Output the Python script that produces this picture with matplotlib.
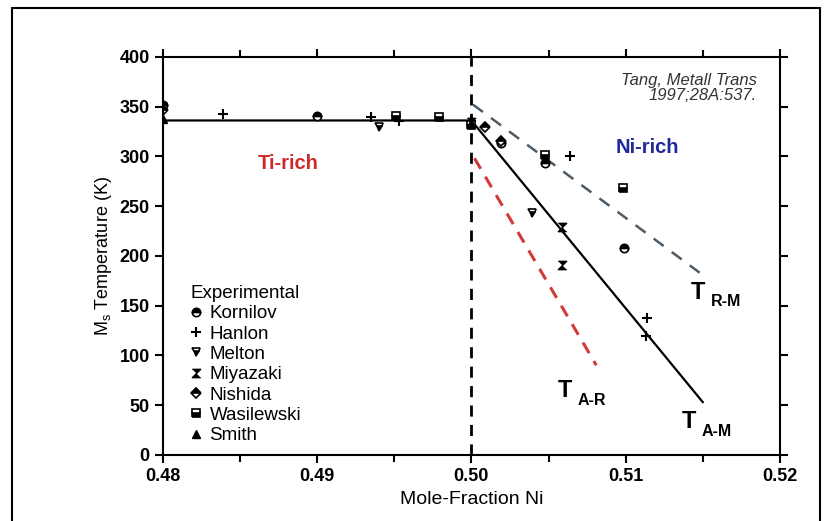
import matplotlib.pyplot as plt
import matplotlib.patches as patches
import numpy as np

plt.rcParams['font.family'] = ['Liberation Sans', 'DejaVu Sans']

# lines (mole fraction Ni, temperature K)
am_x = [0.480, 0.500, 0.5150]
am_y = [336, 336, 53]
ar_x = [0.5002, 0.5081]
ar_y = [298, 90]
rm_x = [0.5001, 0.5148]
rm_y = [352, 183]

# experimental points
kornilov_x = [0.480, 0.490, 0.5019, 0.5048, 0.5099]
kornilov_y = [352, 341, 313, 293, 208]
hanlon_x = [0.4839, 0.4935, 0.4953, 0.500, 0.5064, 0.5114, 0.5113]
hanlon_y = [343, 339, 335, 335, 300, 138, 119]
melton_x = [0.494, 0.5039]
melton_y = [329, 243]
miyazaki_x = [0.500, 0.5059, 0.5059]
miyazaki_y = [334, 229, 191]
nishida_x = [0.480, 0.5009, 0.5019]
nishida_y = [347, 329, 315]
wasil_x = [0.4951, 0.4979, 0.500, 0.5048, 0.5098]
wasil_y = [340, 339, 331, 301, 268]
smith_x = [0.480, 0.500]
smith_y = [337, 333]

fig = plt.figure(figsize=(8.27, 5.21), dpi=100)
ax = fig.add_axes([0.197, 0.127, 0.746, 0.764])

# outer frame
fig.patches.append(patches.Rectangle((0.014, -0.02), 0.978, 1.005, transform=fig.transFigure,
                                     fill=False, edgecolor='black', linewidth=1.5))

ax.plot([0.5, 0.5], [0, 400], color='black', lw=2, dashes=(4, 3))
ax.plot(am_x, am_y, color='black', lw=1.6)
ax.plot(ar_x, ar_y, color='#d23a3a', lw=2.2, dashes=(4, 3))
ax.plot(rm_x, rm_y, color='#4d5b66', lw=1.8, dashes=(5, 4))

hourglass = [(-1, 1), (1, 1), (-1, -1), (1, -1)]
ms = 6
ax.plot(kornilov_x, kornilov_y, 'o', ms=ms, mfc='black', mec='black', fillstyle='top',
        markerfacecoloralt='white', mew=1.2, label='Kornilov')
ax.plot(hanlon_x, hanlon_y, '+', ms=7, color='black', mew=1.5, label='Hanlon')
ax.plot(melton_x, melton_y, 'v', ms=ms, mfc='black', mec='black', fillstyle='bottom',
        markerfacecoloralt='white', mew=1.2, label='Melton')
ax.plot(miyazaki_x, miyazaki_y, marker=hourglass, ls='none', ms=ms, color='black', label='Miyazaki')
ax.plot(nishida_x, nishida_y, 'D', ms=5, mfc='black', mec='black', fillstyle='top',
        markerfacecoloralt='white', mew=1.2, label='Nishida')
ax.plot(wasil_x, wasil_y, 's', ms=ms, mfc='black', mec='black', fillstyle='bottom',
        markerfacecoloralt='white', mew=1.2, label='Wasilewski')
ax.plot(smith_x, smith_y, '^', ms=ms, color='black', label='Smith')

ax.set_xlim(0.48, 0.52)
ax.set_ylim(0, 400)
ax.set_xticks([0.48, 0.49, 0.50, 0.51, 0.52])
ax.set_xticklabels(['0.48', '0.49', '0.50', '0.51', '0.52'])
ax.set_xticks(np.arange(0.485, 0.52, 0.01), minor=True)
ax.set_yticks(np.arange(0, 401, 50))
ax.tick_params(axis='both', which='both', direction='out', top=True, right=True,
               width=1.5, labelsize=13)
ax.tick_params(which='major', length=6)
ax.tick_params(which='minor', length=5)
for lab in ax.get_xticklabels() + ax.get_yticklabels():
    lab.set_fontweight('bold')
for s in ax.spines.values():
    s.set_linewidth(1.5)

ax.set_xlabel('Mole-Fraction Ni', fontsize=14, labelpad=4)
ax.set_ylabel(r'M$_\mathregular{s}$ Temperature (K)', fontsize=13,
              family=['Liberation Sans Narrow', 'Liberation Sans'], labelpad=4)

ax.text(0.4881, 293, 'Ti-rich', color='#cc2a2a', fontsize=14.5, fontweight='bold',
        ha='center', va='center')
ax.text(0.5114, 309, 'Ni-rich', color='#1f2a9a', fontsize=14.5, fontweight='bold',
        ha='center', va='center')
ax.text(0.5185, 384, 'Tang, Metall Trans\n1997;28A:537.', fontsize=12, style='italic',
        ha='right', va='top', color='#333333', linespacing=1.0)

ax.text(0.51419, 157, 'T', fontsize=17, fontweight='bold', va='baseline')
ax.text(0.51555, 150, 'R-M', fontsize=11.5, fontweight='bold', va='baseline')
ax.text(0.50561, 58, 'T', fontsize=17, fontweight='bold', va='baseline')
ax.text(0.50690, 50, 'A-R', fontsize=11.5, fontweight='bold', va='baseline')
ax.text(0.51361, 27, 'T', fontsize=17, fontweight='bold', va='baseline')
ax.text(0.51490, 19, 'A-M', fontsize=11.5, fontweight='bold', va='baseline')

leg = ax.legend(loc='upper left', bbox_to_anchor=(0.03, 0.45), frameon=False,
                title='Experimental', fontsize=13.5, title_fontsize=13.5, alignment='left',
                handlelength=0.6, handletextpad=0.4, labelspacing=0.17, borderpad=0,
                numpoints=1)

fig.savefig('out.png', dpi=100)
